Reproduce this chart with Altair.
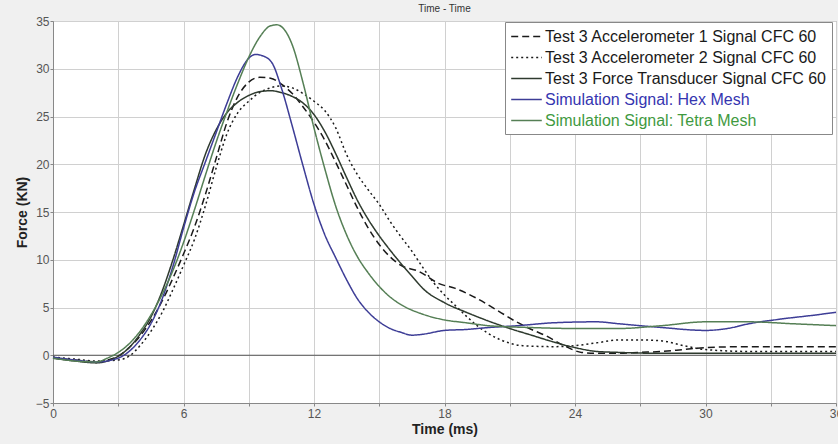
import altair as alt
import pandas as pd

# ---- data ----
series_names = [
    "Test 3 Accelerometer 1 Signal CFC 60",
    "Test 3 Accelerometer 2 Signal CFC 60",
    "Test 3 Force Transducer Signal CFC 60",
    "Simulation Signal: Hex Mesh",
    "Simulation Signal: Tetra Mesh",
]

t_acc1 = [0, 1, 2, 2.5, 3, 3.5, 4, 4.5, 5, 5.5, 6, 6.5, 7, 7.5, 8, 8.5, 9, 9.5, 10, 10.5, 11, 11.5, 12,
          12.5, 13, 13.5, 14, 14.5, 15, 15.5, 16, 16.8, 17.75, 18.5, 19.45, 20.5, 21.3, 22, 22.7, 23.5,
          24.3, 25, 26, 27, 28, 29, 30, 32, 34, 36]
f_acc1 = [-0.3, -0.5, -0.7, -0.5, -0.1, 0.8, 2.0, 3.6, 5.6, 8.0, 10.6, 13.4, 16.8, 20.6, 24.4, 27.1, 28.6,
          29.1, 29.0, 28.4, 27.4, 26.0, 24.4, 22.5, 20.2, 17.8, 15.4, 13.3, 11.6, 10.3, 9.4, 8.8, 7.5, 7.0,
          6.0, 4.6, 3.5, 2.7, 2.0, 1.0, 0.3, 0.2, 0.2, 0.3, 0.4, 0.6, 0.8, 0.9, 0.9, 0.9]

t_acc2 = [0, 1, 2, 3, 3.5, 4, 4.5, 5, 5.5, 6, 6.5, 7, 7.5, 8, 8.5, 9, 9.5, 10, 10.5, 11, 11.5, 12, 12.5,
          13, 13.5, 14, 14.5, 15, 15.5, 16, 16.5, 17, 17.5, 18, 18.5, 19, 19.5, 20, 20.6, 21.6, 23, 24,
          25, 26, 27, 28, 29, 30, 32, 34, 36]
f_acc2 = [-0.2, -0.4, -0.6, -0.5, -0.1, 1.0, 2.5, 4.4, 6.8, 9.4, 12.1, 15.6, 19.6, 23.2, 25.4, 26.6, 27.5,
          28.0, 28.2, 28.0, 27.4, 26.6, 25.6, 23.8, 21.0, 18.9, 17.3, 15.8, 14.0, 12.4, 10.9, 9.2, 7.6,
          6.3, 5.2, 4.1, 3.1, 2.3, 1.6, 1.0, 0.9, 1.0, 1.3, 1.6, 1.6, 1.5, 1.0, 0.6, 0.4, 0.4, 0.4]

t_force = [0, 1, 2, 2.5, 3, 3.5, 4, 4.5, 5, 5.5, 6, 6.5, 7, 7.5, 8, 8.5, 9, 9.5, 10, 10.5, 11, 11.5, 12,
           12.5, 13, 13.5, 14, 14.5, 15, 15.5, 16, 16.5, 17, 18, 19, 20, 21, 22, 23, 24, 25, 26, 28, 30,
           32, 34, 36]
f_force = [-0.3, -0.6, -0.8, -0.6, -0.1, 0.8, 2.2, 4.0, 6.6, 9.9, 13.6, 17.4, 21.0, 23.6, 25.4, 26.5,
           27.2, 27.6, 27.7, 27.5, 27.1, 26.4, 25.2, 23.4, 21.1, 18.6, 16.2, 14.2, 12.5, 11.0, 9.6, 8.3,
           7.0, 5.5, 4.5, 3.6, 2.8, 2.1, 1.4, 0.8, 0.4, 0.3, 0.2, 0.2, 0.2, 0.2, 0.2]

t_hex = [0, 1, 2, 3, 3.5, 4, 4.5, 5, 5.5, 6, 6.5, 7, 7.5, 8, 8.5, 9, 9.3, 9.7, 10.1, 10.5, 11, 11.5, 12,
         12.5, 13, 13.5, 14, 14.5, 15, 15.5, 16, 16.5, 17, 18, 19, 20, 21.4, 23, 25, 26, 28, 30, 31,
         32, 33.5, 35, 36]
f_hex = [-0.2, -0.5, -0.7, -0.3, 0.4, 1.6, 3.3, 5.8, 9.2, 13.3, 17.1, 20.2, 23.3, 26.4, 29.2, 31.1, 31.5,
         31.3, 30.5, 28.0, 24.0, 19.8, 15.8, 12.6, 10.2, 7.9, 5.9, 4.5, 3.5, 2.8, 2.4, 2.1, 2.2, 2.6,
         2.7, 2.9, 3.1, 3.4, 3.5, 3.3, 2.9, 2.6, 2.8, 3.3, 3.8, 4.2, 4.5]

t_tetra = [0, 1, 2, 2.5, 3, 3.5, 4, 4.5, 5, 5.5, 6, 6.5, 7, 7.5, 8, 8.5, 9, 9.5, 10, 10.3, 10.6, 11,
           11.5, 12, 12.5, 13, 13.5, 14, 14.5, 15, 15.5, 16, 17, 18, 19, 20, 22, 24, 26, 28, 30, 32,
           34, 36]
f_tetra = [-0.3, -0.6, -0.7, -0.3, 0.3, 1.2, 2.5, 4.2, 6.3, 8.8, 11.8, 15.2, 18.8, 22.3, 25.5, 28.5, 31.2,
           33.3, 34.5, 34.6, 34.2, 32.5, 28.5, 23.8, 19.5, 15.6, 12.6, 10.3, 8.6, 7.2, 6.1, 5.3, 4.3, 3.7,
           3.4, 3.1, 2.9, 2.8, 2.8, 3.1, 3.5, 3.5, 3.3, 3.1]

series_colors = ["#1a1a1a", "#1a1a1a", "#2e3a2e", "#3d3d96", "#557f55"]
series_dashes = [[7, 4], [2, 3], [1, 0], [1, 0], [1, 0]]
label_colors = ["#1a1a1a", "#1a1a1a", "#1a1a1a", "#3535b0", "#3f9a3f"]

x_grid = list(range(0, 37, 3))
y_grid = [-5 + 2.5 * i for i in range(17)]
zero_line = [0]

# ---- build table ----
rows = []
for name, ts, fs in [
    (series_names[0], t_acc1, f_acc1),
    (series_names[1], t_acc2, f_acc2),
    (series_names[2], t_force, f_force),
    (series_names[3], t_hex, f_hex),
    (series_names[4], t_tetra, f_tetra),
]:
    for t, f in zip(ts, fs):
        rows.append({"series": name, "time": t, "force": f})
df = pd.DataFrame(rows)

font = "Liberation Sans"

label_expr = (
    f"datum.label == '{series_names[3]}' ? '{label_colors[3]}' : "
    f"datum.label == '{series_names[4]}' ? '{label_colors[4]}' : '{label_colors[0]}'"
)

x_enc = alt.X(
    "time:Q",
    scale=alt.Scale(domain=[0, 36], nice=False),
    axis=alt.Axis(
        values=x_grid,
        labelExpr="datum.value % 6 == 0 ? datum.label : ''",
        title="Time (ms)",
        titleFontWeight="bold",
        titleFontSize=14,
        titleColor="#222",
        titlePadding=3,
        labelFontSize=12,
        labelColor="#555",
        labelPadding=2,
        tickSize=3,
        tickColor="#888",
        domainColor="#888",
        gridColor="#d0d0d0",
        labelFont=font,
        titleFont=font,
        labelFlush=False,
    ),
)
y_enc = alt.Y(
    "force:Q",
    scale=alt.Scale(domain=[-5, 35], nice=False),
    axis=alt.Axis(
        values=y_grid,
        labelExpr="datum.value % 5 == 0 ? datum.label : ''",
        title="Force (KN)",
        titleFontWeight="bold",
        titleFontSize=14,
        titleColor="#222",
        titlePadding=6,
        labelFontSize=12,
        labelColor="#555",
        labelPadding=1,
        tickSize=3,
        tickColor="#888",
        domainColor="#888",
        gridColor="#d0d0d0",
        labelFont=font,
        titleFont=font,
    ),
)

lines = alt.Chart(df).mark_line(strokeWidth=1.5, interpolate="monotone").encode(
    x=x_enc,
    y=y_enc,
    color=alt.Color(
        "series:N",
        scale=alt.Scale(domain=series_names, range=series_colors),
        legend=alt.Legend(
            title=None,
            orient="none",
            legendX=452,
            legendY=1,
            symbolType="M-1.8,0L1.8,0",
            symbolSize=289,
            symbolOffset=7,
            symbolStrokeWidth=1.5,
            labelFontSize=16,
            labelFont=font,
            labelColor={"expr": label_expr},
            labelLimit=400,
            labelOffset=9,
            rowPadding=3,
            padding=5,
            fillColor="white",
            strokeColor="#888",
            offset=0,
        ),
    ),
    strokeDash=alt.StrokeDash(
        "series:N",
        scale=alt.Scale(domain=series_names, range=series_dashes),
        legend=None,
    ),
    detail="series:N",
)

zero = alt.Chart(pd.DataFrame({"y": zero_line})).mark_rule(color="#555", strokeWidth=1).encode(
    y=alt.Y("y:Q", scale=alt.Scale(domain=[-5, 35], nice=False))
)

chart = alt.layer(zero, lines).properties(
    width=783,
    height=382,
    background="#f0f0f0",
    padding={"left": 53, "top": 21, "right": 2, "bottom": 41},
    autosize=alt.AutoSizeParams(type="none"),
    title=alt.Title("Time - Time", fontSize=10, font=font, color="#333", fontWeight="normal", offset=1),
).configure_view(
    fill="white", stroke="#999"
)

chart.save("out.html", embed_options={"renderer": "svg", "actions": False})
